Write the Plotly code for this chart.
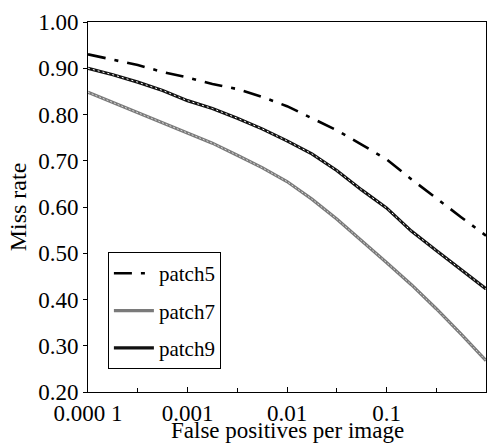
import plotly.graph_objects as go

# log10 of false positives per image
log_fppi = [-4, -3.75, -3.5, -3.25, -3, -2.75, -2.5, -2.25, -2, -1.75, -1.5, -1.25, -1, -0.75, -0.5, -0.25, 0]
fppi = [10 ** v for v in log_fppi]

patch5 = [0.930, 0.918, 0.907, 0.892, 0.880, 0.866, 0.855, 0.838, 0.818, 0.792, 0.766, 0.735, 0.703, 0.660, 0.618, 0.578, 0.538]
patch7 = [0.848, 0.826, 0.803, 0.782, 0.760, 0.738, 0.712, 0.685, 0.655, 0.617, 0.574, 0.528, 0.480, 0.432, 0.380, 0.325, 0.268]
patch9 = [0.900, 0.886, 0.870, 0.852, 0.830, 0.813, 0.792, 0.769, 0.743, 0.715, 0.679, 0.637, 0.598, 0.548, 0.506, 0.465, 0.423]

x_tickvals = [0.0001, 0.001, 0.01, 0.1, 1]
x_ticktext = ["0.000 1", "0.001", "0.01", "0.1", "1"]
x_minor = [10 ** -3.5, 10 ** -2.5, 10 ** -1.5, 10 ** -0.5]
y_tickvals = [0.2, 0.3, 0.4, 0.5, 0.6, 0.7, 0.8, 0.9, 1.0]
y_ticktext = ["0.20", "0.30", "0.40", "0.50", "0.60", "0.70", "0.80", "0.90", "1.00"]

FONT = "Liberation Serif, Times New Roman, serif"

fig = go.Figure()

fig.add_trace(go.Scatter(x=fppi, y=patch5, mode="lines", name="patch5", legendgroup="p5",
                         line=dict(color="black", width=2.6, dash="18px,9px,4px,9px")))

fig.add_trace(go.Scatter(x=fppi, y=patch7, mode="lines", name="patch7", legendgroup="p7",
                         line=dict(color="#7a7a7a", width=3.2)))
fig.add_trace(go.Scatter(x=fppi, y=patch7, mode="lines", name="patch7", legendgroup="p7", showlegend=False,
                         hoverinfo="skip", line=dict(color="#d8d8d8", width=1, dash="2px,2px")))

fig.add_trace(go.Scatter(x=fppi, y=patch9, mode="lines", name="patch9", legendgroup="p9",
                         line=dict(color="#111111", width=3.2)))
fig.add_trace(go.Scatter(x=fppi, y=patch9, mode="lines", name="patch9", legendgroup="p9", showlegend=False,
                         hoverinfo="skip", line=dict(color="#ffffff", width=1, dash="2px,3px")))

fig.update_layout(
    width=489, height=443,
    margin=dict(l=88, r=3, t=22, b=51),
    paper_bgcolor="white", plot_bgcolor="white",
    font=dict(family=FONT, size=22, color="black"),
    showlegend=True,
    legend=dict(x=0.05, y=0.378, xanchor="left", yanchor="top",
                bgcolor="white", bordercolor="black", borderwidth=1,
                font=dict(family=FONT, size=21), traceorder="grouped", tracegroupgap=7,
                itemwidth=40),
    xaxis=dict(type="log", range=[-4, 0], tickvals=x_tickvals, ticktext=x_ticktext,
               ticks="inside", ticklen=5, tickcolor="black", showgrid=False, zeroline=False,
               showline=True, linecolor="black", linewidth=1, mirror=True,
               minor=dict(tickvals=x_minor, ticks="inside", ticklen=4, tickcolor="black", showgrid=False),
               tickfont=dict(size=23)),
    yaxis=dict(range=[0.2, 1.0], tickvals=y_tickvals, ticktext=y_ticktext,
               ticks="outside", ticklen=4, tickcolor="black", showgrid=False, zeroline=False,
               showline=True, linecolor="black", linewidth=1, mirror=True,
               tickfont=dict(size=23),
               title=dict(text="Miss rate", font=dict(size=24), standoff=4)),
    annotations=[dict(text="False positives per image", xref="paper", yref="paper",
                      x=0.5, y=-0.143, xanchor="center", yanchor="bottom", showarrow=False,
                      font=dict(family=FONT, size=23, color="black"))],
)

fig.write_html("out.html")
